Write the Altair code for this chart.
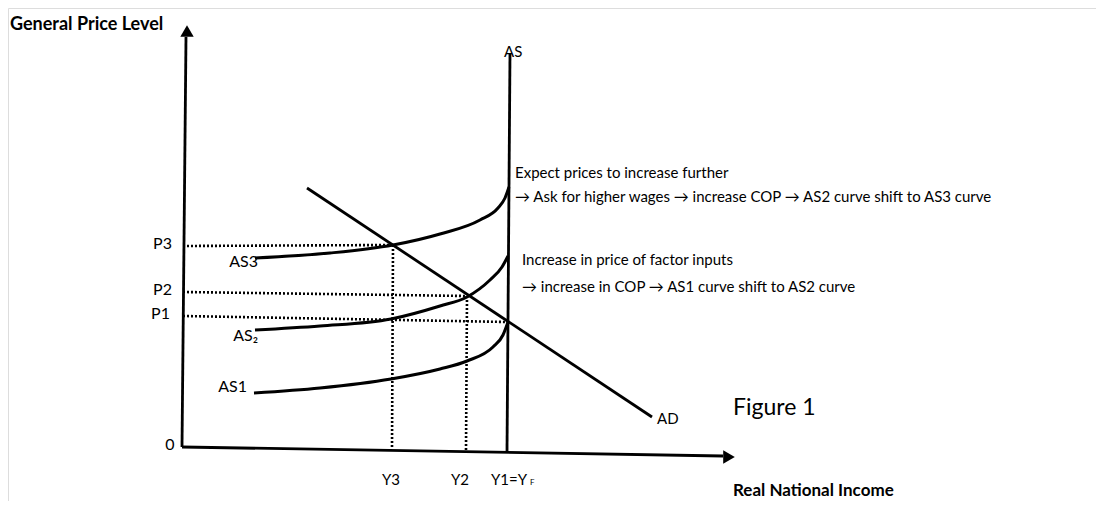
import altair as alt
import pandas as pd

# ---- readings from the picture (x = real national income, y = general price level) ----
as1_x = [71, 137, 208, 257, 284, 310, 320, 325]
as1_y = [54, 59, 68, 78, 86, 100, 112, 125]
as2_x = [72, 137, 208, 257, 284, 307, 319, 325]
as2_y = [117, 121, 128, 141, 150, 167, 180, 191]
as3_x = [72, 147, 210, 257, 297, 315, 322, 326]
as3_y = [189, 194, 202, 213, 227, 239, 249, 260]

as_vert_x = [324, 327]
as_vert_y = [-4, 394]
ad_x = [124, 469]
ad_y = [259, 30]

yaxis_x = [-1, 3]
yaxis_y = [0, 410]
xaxis_x = [-1, 540]
xaxis_y = [0, -9]

# equilibrium points E3, E2, E1 and the price level where the dotted line meets the axis
eq_names = ["3", "2", "1"]
eq_x = [210, 284, 324]
eq_y = [202, 151, 125]
p_axis_y = [201, 155, 131]
y_axis_end = [-1, -3, -4]

price_labels = ["P3", "P2", "P1"]
income_labels = ["Y3", "Y2"]
income_label_x = [208, 277]

FONT = "Lato"

rows = []
for name, xs, ys in [("AS1", as1_x, as1_y), ("AS2", as2_x, as2_y), ("AS3", as3_x, as3_y)]:
    for i, (a, b) in enumerate(zip(xs, ys)):
        rows.append({"series": name, "order": i, "x": a, "y": b})
curves = pd.DataFrame(rows)

srows = []
for name, xs, ys in [("AS", as_vert_x, as_vert_y), ("AD", ad_x, ad_y),
                     ("yaxis", yaxis_x, yaxis_y), ("xaxis", xaxis_x, xaxis_y)]:
    for i, (a, b) in enumerate(zip(xs, ys)):
        srows.append({"series": name, "order": i, "x": a, "y": b})
straight = pd.DataFrame(srows)

drows = []
for n, ex, ey, py, ye in zip(eq_names, eq_x, eq_y, p_axis_y, y_axis_end):
    drows += [{"series": "h" + n, "order": 0, "x": 0, "y": py},
              {"series": "h" + n, "order": 1, "x": ex, "y": ey}]
    if n != "1":
        drows += [{"series": "v" + n, "order": 0, "x": ex, "y": ey},
                  {"series": "v" + n, "order": 1, "x": ex - 1, "y": ye}]
dotted = pd.DataFrame(drows)

X = alt.X("x:Q", scale=alt.Scale(domain=[-175, 913], nice=False, zero=False), axis=None)
Y = alt.Y("y:Q", scale=alt.Scale(domain=[-54, 439], nice=False, zero=False), axis=None)

curve_layer = alt.Chart(curves).mark_line(interpolate="monotone", color="black", strokeWidth=3).encode(
    x=X, y=Y, detail="series:N", order="order:Q")
straight_layer = alt.Chart(straight).mark_line(color="black", strokeWidth=2.8).encode(
    x=X, y=Y, detail="series:N", order="order:Q")
dotted_layer = alt.Chart(dotted).mark_line(color="black", strokeWidth=2.6, strokeDash=[2, 2]).encode(
    x=X, y=Y, detail="series:N", order="order:Q")

arrow_up = alt.Chart(pd.DataFrame({"x": [4], "y": [416]})).mark_point(
    shape="triangle-up", filled=True, color="black", opacity=1, size=180).encode(x=X, y=Y)
arrow_right = alt.Chart(pd.DataFrame({"x": [546], "y": [-10]})).mark_point(
    shape="triangle-right", filled=True, color="black", opacity=1, size=180).encode(x=X, y=Y)


def text_layer(df, size, align="left", bold=False, baseline="middle"):
    return alt.Chart(df).mark_text(
        font=FONT, fontSize=size, align=align, baseline=baseline, color="black",
        fontWeight="bold" if bold else "normal").encode(x=X, y=Y, text="t:N")


p_lab = text_layer(pd.DataFrame({"t": price_labels, "x": [-11, -11, -13],
                                 "y": [p + 2 for p in p_axis_y]}), 16, align="right")
zero_lab = text_layer(pd.DataFrame({"t": ["0"], "x": [-13], "y": [2]}), 16, align="center")
y_lab = text_layer(pd.DataFrame({"t": income_labels, "x": income_label_x, "y": [-33, -33]}), 15, align="center")
y1_lab = text_layer(pd.DataFrame({"t": ["Y1=Y"], "x": [308], "y": [-33]}), 15)
yf_lab = text_layer(pd.DataFrame({"t": ["F"], "x": [347], "y": [-36]}), 8)
as_lab = text_layer(pd.DataFrame({"t": ["AS3", "AS₂", "AS1"],
                                  "x": [75, 75, 64], "y": [185, 111, 60]}), 16, align="right")
as_top = text_layer(pd.DataFrame({"t": ["AS"], "x": [321], "y": [395]}), 15)
ad_lab = text_layer(pd.DataFrame({"t": ["AD"], "x": [474], "y": [28]}), 15)
fig_lab = text_layer(pd.DataFrame({"t": ["Figure 1"], "x": [550], "y": [39]}), 23)
title_y = text_layer(pd.DataFrame({"t": ["General Price Level"], "x": [-173], "y": [422]}), 18, bold=True)
title_x = text_layer(pd.DataFrame({"t": ["Real National Income"], "x": [550], "y": [-49]}), 17,
                     bold=True, baseline="alphabetic")
notes = text_layer(pd.DataFrame({
    "t": ["Expect prices to increase further",
          "→ Ask for higher wages → increase COP → AS2 curve shift to AS3 curve",
          "Increase in price of factor inputs",
          "→ increase in COP → AS1 curve shift to AS2 curve"],
    "x": [332, 332, 339, 339],
    "y": [274, 250, 187, 160]}), 15)

chart = alt.layer(
    dotted_layer, curve_layer, straight_layer, arrow_up, arrow_right,
    p_lab, zero_lab, y_lab, y1_lab, yf_lab, as_lab, as_top, ad_lab, fig_lab, title_y, title_x, notes
).properties(width=1088, height=493, padding=0, autosize=alt.AutoSizeParams(type="none")).configure_view(
    stroke=None).configure(background="white")

chart.save("out.html", embed_options={"renderer": "svg", "actions": False})
